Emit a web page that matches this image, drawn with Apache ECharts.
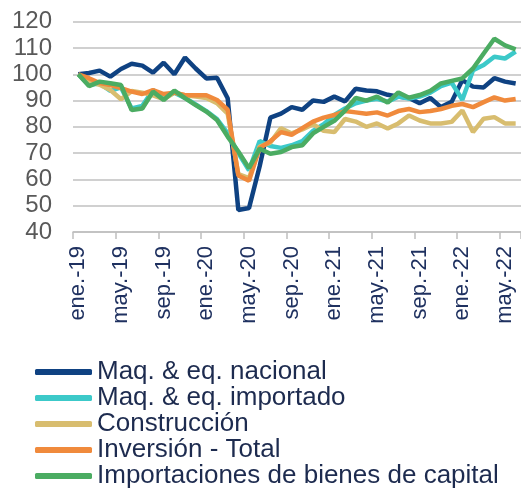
<!DOCTYPE html>
<html>
<head>
<meta charset="utf-8">
<script src="https://cdn.jsdelivr.net/npm/echarts@6/dist/echarts.min.js"></script>
<style>
html,body{margin:0;padding:0;background:#fff;}
#c{width:521px;height:488px;}
</style>
</head>
<body>
<div id="c"></div>
<script>
const months = ['ene.','feb.','mar.','abr.','may.','jun.','jul.','ago.','sep.','oct.','nov.','dic.'];
const categories = [];
for (let y = 19; y <= 22; y++) {
  for (let m = 0; m < 12; m++) {
    if (y === 22 && m > 5) break;
    categories.push(months[m] + '-' + y);
  }
}
const seriesNames = ['Maq. & eq. nacional','Maq. & eq. importado','Construcción','Inversión - Total','Importaciones de bienes de capital'];
const maqNacional = [100,100.5,101.4,99.1,102,104,103.3,100.6,104.4,100,106.4,102.2,98.4,98.7,90.9,48.4,49.1,
  65,83.5,85,87.5,86.5,90,89.5,91.5,89.7,94.5,93.8,93.5,92.2,91.5,91,89,91,87.5,89.5,97.8,95.3,95,98.5,97.2,96.5];
const maqImportado = [100,96,96.5,93.7,95,87,88,94,91,93,91,88.5,86,83,77.5,70,63.5,
  74.6,72.7,72,73,74.6,78.5,81,84.5,87,89,90,90.7,89.6,91.5,90.8,91.5,93,95.5,96.8,90.3,101.5,103.5,106.7,106,108.6];
const construccion = [100,97,96,94,90.5,93.6,93,92,90.5,93,92,91.5,91,89,85,62,60.5,
  72.5,74,79.5,77.5,79,81,78.5,78,83,82,80,81.3,79.4,81.3,84.3,82.4,81.3,81.3,81.9,86.2,78,83.1,83.7,81.3,81.3];
const inversionTotal = [100,98.5,96.7,95.9,94.7,93.4,92.5,94,92.5,93,92,92,92,90.2,86.5,61.5,59.5,
  72,74.5,78,77,79.5,82,83.5,84.5,86,85.5,85,85.5,84.3,86,86.8,85.6,86,86.8,88,88.7,87.5,89.4,91.2,90,90.6];
const importacionesBK = [100,95.5,97.2,96.6,95.9,86.4,87,93.4,90.2,93.8,90.9,88.3,85.8,82.6,76.3,70.6,64.3,
  71.7,69.8,70.4,72.3,73,77.5,80,82.3,86.2,91,90,91.5,89.2,93.1,91.1,92.1,93.7,96.5,97.5,98.4,102.2,107.9,113.5,111,109.5];
const colors = ['#0f4282','#3cc9c9','#d8bd6f','#f08a3c','#4bac62'];
const dataList = [maqNacional, maqImportado, construccion, inversionTotal, importacionesBK];

const FONT = '"Liberation Sans", Arial, sans-serif';
const chart = echarts.init(document.getElementById('c'), null, {renderer:'canvas'});
chart.setOption({
  animation: false,
  color: colors,
  grid: {left: 73, right: 0, top: 21.7, bottom: 256, containLabel: false},
  legend: {
    type: 'plain', orient: 'vertical', left: 35, top: 359, width: 480, height: 200,
    padding: 0, itemGap: 0,
    itemWidth: 57, itemHeight: 6, icon: 'roundRect',
    textStyle: {fontFamily: FONT, fontSize: 26, color: '#1d2b4f', lineHeight: 26},
    data: seriesNames
  },
  xAxis: {
    type: 'category', data: categories, boundaryGap: true,
    axisLine: {lineStyle: {color: '#bfbfbf', width: 1.5}},
    axisTick: {show: true, interval: 3, length: 7, lineStyle: {color: '#bfbfbf', width: 1.5}},
    axisLabel: {interval: 3, rotate: 90, margin: 14, fontFamily: FONT, fontSize: 22, color: '#1f3160'},
    splitLine: {show: false}
  },
  yAxis: {
    type: 'value', min: 40, max: 120, interval: 10,
    axisLine: {show: false}, axisTick: {show: false},
    axisLabel: {margin: 21, fontFamily: FONT, fontSize: 24, color: '#595959'},
    splitLine: {lineStyle: {color: '#c0c0c0', width: 1.5}}
  },
  series: seriesNames.map((n, i) => ({
    name: n, type: 'line', data: dataList[i], showSymbol: false, symbol: 'none',
    lineStyle: {width: 4.5, color: colors[i]}, itemStyle: {color: colors[i]}
  }))
});
</script>
</body>
</html>
